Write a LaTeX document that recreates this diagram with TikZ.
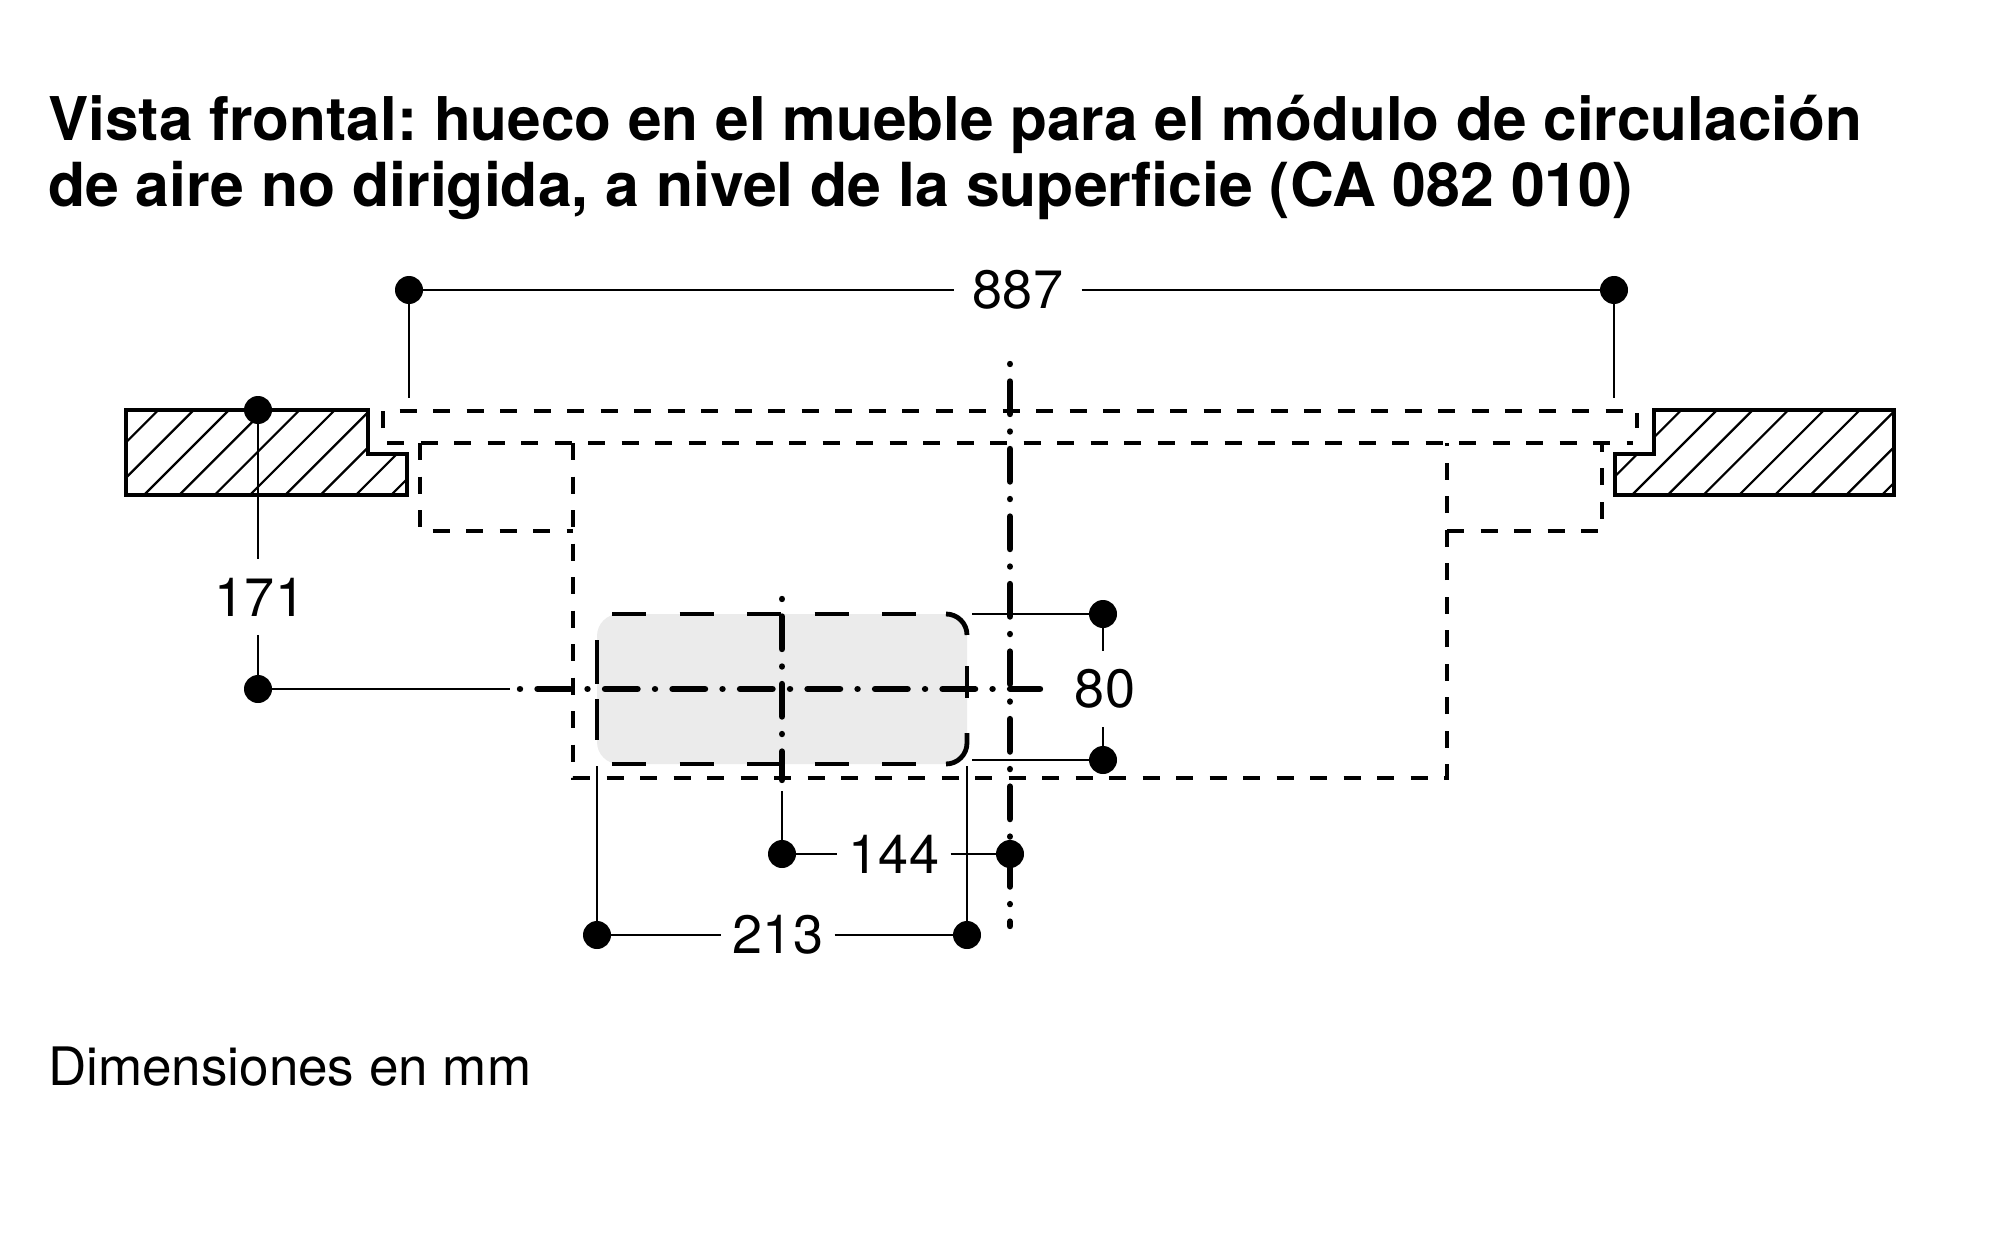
\documentclass[tikz,border=0pt]{standalone}
\usepackage{fontspec}
\setmainfont{TeX Gyre Heros}
\definecolor{panel}{HTML}{EBEBEB}
\tikzset{
  px/.style={x=1pt,y=-1pt},
  outline/.style={line width=4.4pt,line join=miter},
  hatchline/.style={line width=2.2pt},
  hidden/.style={line width=4.8pt,dash pattern=on 17pt off 16.5pt},
  solidpiece/.style={line width=4.8pt},
  centerline/.style={line width=6.4pt,line cap=round,dash pattern=on 0.01pt off 17.5pt on 32.5pt off 17.5pt},
  thin/.style={line width=2.2pt},
  dimdot/.style={circle,fill=black,minimum size=28pt,inner sep=0pt},
  dimtext/.style={inner sep=18.5pt,font=\fontsize{54pt}{54pt}\selectfont},
}
\begin{document}
\begin{tikzpicture}[px]
\useasboundingbox (0,0) rectangle (2000,1249);
% titles
\frenchspacing
\node[anchor=base west,inner sep=0pt,font=\fontsize{60.3pt}{66pt}\selectfont\bfseries] (title1) at (48,141) {Vista frontal: hueco en el mueble para el módulo de circulación};
\node[anchor=base west,inner sep=0pt,font=\fontsize{60.75pt}{66pt}\selectfont\bfseries] (title2) at (48,207) {de aire no dirigida, a nivel de la superficie (CA 082 010)};
\node[anchor=base west,inner sep=0pt,font=\fontsize{53pt}{53pt}\selectfont] (note) at (48,1085) {Dimensiones en mm};
% gray panel
\fill[panel,rounded corners=22pt] (597,614) rectangle (967,764);
% slabs
\begin{scope}
\clip (126,410) -- (368,410) -- (368,454) -- (407,454) -- (407,495) -- (126,495) -- cycle;
\foreach \i in {-3,...,8} \draw[hatchline] ({144+35.3*\i},495) -- ++(110,-110);
\end{scope}
\draw[outline] (126,410) -- (368,410) -- (368,454) -- (407,454) -- (407,495) -- (126,495) -- cycle;
\begin{scope}
\clip (1654,410) -- (1894,410) -- (1894,495) -- (1615,495) -- (1615,454) -- (1654,454) -- cycle;
\foreach \i in {-3,...,8} \draw[hatchline] ({1632+35.7*\i},495) -- ++(110,-110);
\end{scope}
\draw[outline] (1654,410) -- (1894,410) -- (1894,495) -- (1615,495) -- (1615,454) -- (1654,454) -- cycle;
% hidden outlines
\draw[hidden] (383,428) -- (383,411) -- (1637,411) -- (1637,428);
\draw[hidden] (387,443) -- (1633,443);
\draw[hidden] (420,443) -- (420,531) -- (573,531);
\draw[hidden] (573,443) -- (573,778) -- (1447,778) -- (1447,443);
\draw[hidden] (1447,531) -- (1602,531) -- (1602,443);
% panel contour
\draw[hidden,dash pattern=on 34pt off 33.5pt] (612,614) -- (946,614);
\draw[solidpiece] (946,614) arc[start angle=90,end angle=0,radius=21pt];
\draw[solidpiece] (967,666) -- (967,698);
\draw[solidpiece] (967,733) -- (967,743) arc[start angle=0,end angle=-90,radius=21pt];
\draw[hidden,dash pattern=on 34pt off 33.5pt] (612,764) -- (946,764);
\draw[solidpiece] (597,640) -- (597,684);
\draw[solidpiece] (597,699) -- (597,740);
% centre lines
\draw[centerline] (520,689) -- (1040,689);
\draw[centerline] (782,599) -- (782,780);
\draw[centerline] (1010,364) -- (1010,926);
% dimension nodes
\node[dimdot] (a1) at (409,290) {};
\node[dimdot] (a2) at (1614,290) {};
\node[dimtext] (t887) at (1018,290) {887};
\coordinate (a1f) at (409,398);
\coordinate (a2f) at (1614,398);
\draw[thin] (a1) -- (t887) (t887) -- (a2) (a1) -- (a1f) (a2) -- (a2f);
\node[dimdot] (b1) at (258,410) {};
\node[dimdot] (b2) at (258,689) {};
\node[dimtext] (t171) at (260,597) {171};
\coordinate (b2f) at (510,689);
\draw[thin] (b1) -- (b1 |- t171.north) (b2 |- t171.south) -- (b2) (b2) -- (b2f);
\node[dimdot] (c1) at (1103,614) {};
\node[dimdot] (c2) at (1103,760) {};
\node[dimtext] (t80) at (1105,689) {80};
\coordinate (c1f) at (972,615);
\coordinate (c2f) at (972,763);
\draw[thin] (c1) -- (c1 |- t80.north) (c2 |- t80.south) -- (c2) (c1) -- (c1f |- c1) (c2) -- (c2f |- c2);
\node[dimdot] (d1) at (782,854) {};
\node[dimdot] (d2) at (1010,854) {};
\node[dimtext,inner xsep=11.5pt] (t144) at (894,854) {144};
\coordinate (d1f) at (782,791);
\draw[thin] (d1) -- (t144) (t144) -- (d2) (d1) -- (d1f);
\node[dimdot] (e1) at (597,935) {};
\node[dimdot] (e2) at (967,935) {};
\node[dimtext,inner xsep=11.5pt] (t213) at (778,935) {213};
\coordinate (e1f) at (597,766);
\coordinate (e2f) at (967,766);
\draw[thin] (e1) -- (t213) (t213) -- (e2) (e1) -- (e1f) (e2) -- (e2f);
\end{tikzpicture}
\end{document}
